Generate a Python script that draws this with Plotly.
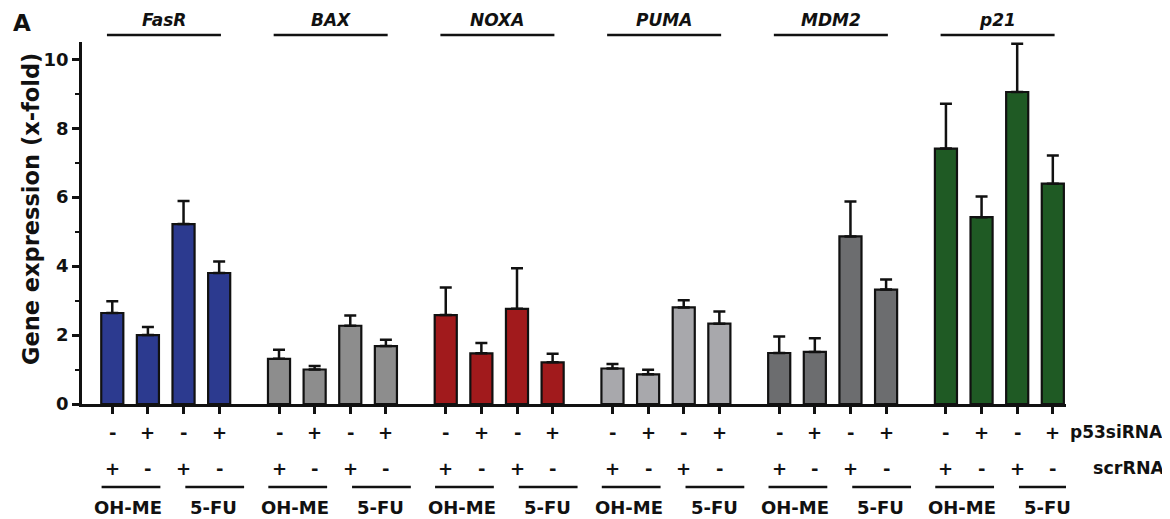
import plotly.graph_objects as go

# ---- data ----
genes = ["FasR", "BAX", "NOXA", "PUMA", "MDM2", "p21"]
colors = ["#2c3a8f", "#8d8d8d", "#a11a1c", "#a8a8ac", "#6c6d6f", "#1f5a24"]
fasr_mean = [2.64, 2.00, 5.22, 3.80]
fasr_err = [0.34, 0.23, 0.67, 0.33]
bax_mean = [1.31, 1.00, 2.27, 1.68]
bax_err = [0.26, 0.10, 0.30, 0.18]
noxa_mean = [2.58, 1.47, 2.76, 1.21]
noxa_err = [0.80, 0.30, 1.18, 0.25]
puma_mean = [1.03, 0.86, 2.80, 2.33]
puma_err = [0.13, 0.13, 0.21, 0.35]
mdm2_mean = [1.48, 1.51, 4.86, 3.32]
mdm2_err = [0.48, 0.40, 1.01, 0.29]
p21_mean = [7.41, 5.42, 9.05, 6.39]
p21_err = [1.30, 0.60, 1.40, 0.82]
p53sirna = ["-", "+", "-", "+"]
scrrna = ["+", "-", "+", "-"]
treatments = ["OH-ME", "5-FU"]
y_ticks = [0, 2, 4, 6, 8, 10]

means = [fasr_mean, bax_mean, noxa_mean, puma_mean, mdm2_mean, p21_mean]
errs = [fasr_err, bax_err, noxa_err, puma_err, mdm2_err, p21_err]

FONT = "DejaVu Sans"
STEP = 4.68  # group spacing in bar units
INK = "#111111"

fig = go.Figure()
all_x = []
for g, gene in enumerate(genes):
    xs = [g * STEP + i for i in range(4)]
    all_x += xs
    fig.add_trace(go.Bar(
        x=xs, y=means[g], width=0.62, name=gene,
        marker=dict(color=colors[g], line=dict(color=INK, width=2.2)),
        error_y=dict(type="data", array=errs[g], arrayminus=[0] * 4, symmetric=False,
                     color=INK, thickness=2.5, width=6),
        showlegend=False,
    ))

# page has an 8px body margin: figure is 1162x511 and plot area placed accordingly
PT, PB = 34, 115  # margins
PH = 511 - PT - PB  # plot height in px


def py(page_y):
    """page pixel y -> paper coordinate"""
    top = 8 + PT
    return 1 - (page_y - top) / PH


def px(page_x):
    left = 8 + 74
    return (page_x - left) / (1066 - left)


shapes = []
ann = []


def label(x, y, text, size=18, xref="x", xanchor="center", angle=0):
    ann.append(dict(x=x, y=y, xref=xref, yref="paper", text=text, xanchor=xanchor, yanchor="middle",
                    textangle=angle, showarrow=False, font=dict(family=FONT, size=size, color=INK)))


for g, gene in enumerate(genes):
    x0 = g * STEP
    label(x0 + 1.45, py(20), f"<b><i>{gene}</i></b>", size=17)
    shapes.append(dict(type="line", xref="x", yref="paper", x0=x0 - 0.15, x1=x0 + 3.05,
                       y0=py(35), y1=py(35), line=dict(color=INK, width=2.5)))
    for i in range(4):
        label(x0 + i, py(432), f"<b>{p53sirna[i]}</b>")
        label(x0 + i, py(468), f"<b>{scrrna[i]}</b>")
    for t, (la, lb, tc) in enumerate([(-0.3, 1.35, 0.45), (2.05, 3.7, 2.85)]):
        shapes.append(dict(type="line", xref="x", yref="paper", x0=x0 + la, x1=x0 + lb,
                           y0=py(487), y1=py(487), line=dict(color=INK, width=2.5)))
        label(x0 + tc, py(507), f"<b>{treatments[t]}</b>")


label(px(1068), py(432), "<b>p53siRNA</b>", size=17, xref="paper", xanchor="left")
label(px(1091), py(468), "<b>scrRNA</b>", size=17.5, xref="paper", xanchor="left")
label(px(11), py(23), "<b>A</b>", size=23, xref="paper", xanchor="left")
label(px(31), py(209), "<b>Gene expression (x-fold)</b>", size=22.5, xref="paper", angle=-90)

fig.update_layout(
    width=1162, height=511,
    margin=dict(l=74, r=104, t=PT, b=PB),
    paper_bgcolor="white", plot_bgcolor="white",
    barmode="overlay",
    shapes=shapes, annotations=ann,
    font=dict(family=FONT, color=INK),
    xaxis=dict(range=[-0.85, 5 * STEP + 3.37], showgrid=False, zeroline=False,
               showline=True, linewidth=2.5, linecolor=INK,
               ticks="outside", tickvals=all_x, ticklen=7, tickwidth=2.5, tickcolor=INK,
               showticklabels=False),
    yaxis=dict(range=[0, 10.5], showgrid=False, zeroline=False,
               showline=True, linewidth=2.5, linecolor=INK,
               ticks="outside", tickvals=y_ticks, ticklen=7, tickwidth=2.5, tickcolor=INK,
               tickfont=dict(family=FONT, size=18, weight="bold", color=INK),
               minor=dict(tickvals=[1, 3, 5, 7, 9], ticks="outside", ticklen=4, tickwidth=2, tickcolor=INK)),
)

fig.write_html("out.html")
